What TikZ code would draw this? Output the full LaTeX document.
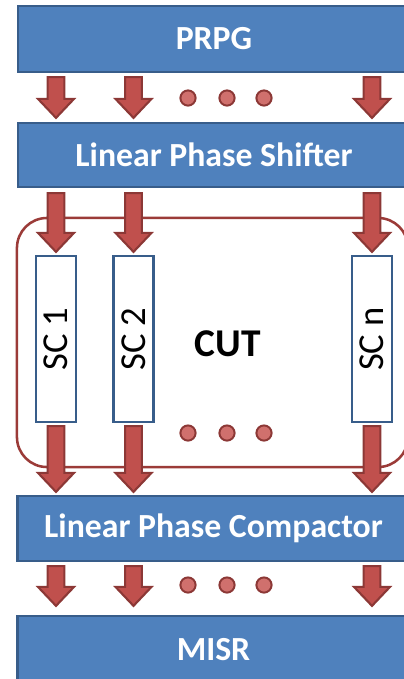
\documentclass[tikz,border=0pt]{standalone}
\usepackage{fontspec}
\setmainfont{Carlito}
\usepackage{graphicx}
\usetikzlibrary{calc}
\definecolor{barblue}{HTML}{4F81BD}
\definecolor{baredge}{HTML}{385D8A}
\definecolor{arrowred}{HTML}{C0504D}
\definecolor{arrowedge}{HTML}{8C3836}
\definecolor{dotred}{HTML}{D0706D}
\definecolor{cutedge}{HTML}{9B3B38}
\tikzset{
  blockarrow/.style={fill=arrowred, draw=arrowedge, line width=1.5pt, line join=miter},
}
% fat downward arrow from #1 to #2
\newcommand{\blockarrow}[2]{%
  \draw[blockarrow] let \p1=(#1), \p2=(#2) in
    (\x1-6pt,\y1) -- (\x1+6pt,\y1) -- (\x1+6pt,\y2+13.5pt)
    -- (\x1+12.8pt,\y2+13.5pt) -- (\x1,\y2) -- (\x1-12.8pt,\y2+13.5pt)
    -- (\x1-6pt,\y2+13.5pt) -- cycle;}

\begin{document}
\begin{tikzpicture}[
  x=0.025cm, y=-0.025cm,
  bar/.style={draw=baredge, fill=barblue, line width=1.6pt, minimum width=9.8cm,
    text=white, font=\fontsize{24}{28}\selectfont\bfseries},
  scbox/.style={draw=baredge, fill=white, line width=1.6pt, minimum width=1cm,
    minimum height=4.15cm, inner sep=0pt, font=\fontsize{26}{30}\selectfont},
  dot/.style={circle, draw=arrowedge, fill=dotred, line width=1.4pt,
    minimum size=0.38cm, inner sep=0pt},
  cutbox/.style={draw=cutedge, line width=1.8pt, rounded corners=0.75cm}
]
\useasboundingbox (0,0) rectangle (403,679);

% circuit under test
\node[cutbox, minimum width=9.775cm, minimum height=6.225cm] (cut) at (212.5,342.5) {};
\node[font=\fontsize{28}{32}\selectfont\bfseries] (cutlabel) at (228,344) {CUT};

% blocks
\node[bar, minimum height=1.65cm] (prpg) at (214,39) {PRPG};
\node[bar, minimum height=1.6cm] (lps) at (214,155) {Linear Phase Shifter};
\node[bar, minimum height=1.625cm] (lpc) at (213.5,528.5) {Linear Phase Compactor};
\node[bar, minimum height=1.7cm] (misr) at (213.5,650) {MISR};

% scan chains
\node[scbox] (sc1) at (56,339) {\rotatebox{90}{SC 1}};
\node[scbox] (sc2) at (133.5,339) {\rotatebox{90}{SC 2}};
\node[scbox] (scn) at (372,339) {\rotatebox{90}{SC n}};

% dots
\foreach \y/\r in {98/a,433/b,585/c}
  \foreach \x/\k in {188/1,227/2,264/3}
    \node[dot] (dot\r\k) at (\x,\y) {};

% arrows
\foreach \s in {sc1,sc2,scn}{
  \blockarrow{$(prpg.south -| \s)+(0,4)$}{$(lps.north -| \s)+(0,-4)$}
  \blockarrow{$(lps.south -| \s)+(0,5)$}{$(\s.north)+(0,-3)$}
  \blockarrow{$(\s.south)+(0,3)$}{$(lpc.north -| \s)+(0,-3)$}
  \blockarrow{$(lpc.south -| \s)+(0,4)$}{$(misr.north -| \s)+(0,-9)$}
}
\end{tikzpicture}
\end{document}
